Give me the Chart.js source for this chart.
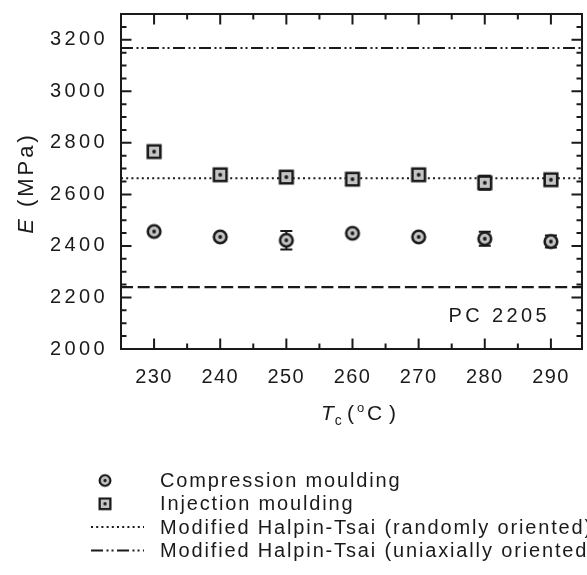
<!DOCTYPE html>
<html>
<head>
<meta charset="utf-8">
<script src="https://cdn.jsdelivr.net/npm/chart.js"></script>
<style>
  html, body { margin: 0; padding: 0; background: #fff; }
  #wrap { width: 587px; height: 575px; }
</style>
</head>
<body>
<div id="wrap"><canvas id="chart" width="587" height="575"></canvas></div>
<script>
// data
const temps = [230, 240, 250, 260, 270, 280, 290];
const compression = [2456, 2435, 2422, 2449, 2435, 2428, 2417];
const compressionErr = [10, 10, 36, 10, 10, 27, 23];
const injection = [2766, 2676, 2667, 2659, 2676, 2645, 2657];
const injectionErr = [8, 8, 8, 8, 8, 27, 8];
const randomHT = 2663;     // Modified Halpin-Tsai (randomly oriented)
const uniaxialHT = 3168;   // Modified Halpin-Tsai (uniaxially oriented)
const pc2205 = 2240;       // neat PC 2205
const xTicks = [230, 240, 250, 260, 270, 280, 290];
const yTicks = [2000, 2200, 2400, 2600, 2800, 3000, 3200];
const xRange = [225, 294.7];
const yRange = [2000, 3300];
const legendLabels = [
    'Compression moulding',
    'Injection moulding',
    'Modified Halpin-Tsai (randomly oriented)',
    'Modified Halpin-Tsai (uniaxially oriented)'
];

const FONT = '"Liberation Sans", Arial, sans-serif';
const INK = '#1a1a1a';

// marker images
function makeMarker(shape) {
    const c = document.createElement('canvas');
    c.width = 18; c.height = 18;
    const g = c.getContext('2d');
    g.fillStyle = '#c4c4c4';
    g.strokeStyle = INK;
    g.lineWidth = 2.6;
    g.beginPath();
    if (shape === 'circle') g.arc(9, 9, 6.3, 0, Math.PI * 2);
    else g.rect(2.7, 2.7, 12.6, 12.6);
    g.fill();
    g.stroke();
    g.fillStyle = INK;
    g.beginPath();
    g.arc(9, 9, 1.9, 0, Math.PI * 2);
    g.fill();
    return c;
}
const circleImg = makeMarker('circle');
const squareImg = makeMarker('square');

const pts = (ys) => temps.map((t, i) => ({ x: t, y: ys[i] }));
const hline = (v) => [{ x: xRange[0], y: v }, { x: xRange[1], y: v }];

// error bars, under the markers
const errorBars = {
    id: 'errorBars',
    beforeDatasetsDraw(chart) {
        const { ctx, scales: { x, y } } = chart;
        ctx.save();
        ctx.strokeStyle = INK;
        ctx.lineWidth = 2;
        [[compression, compressionErr], [injection, injectionErr]].forEach(([vals, errs]) => {
            vals.forEach((v, i) => {
                const px = x.getPixelForValue(temps[i]);
                const y1 = y.getPixelForValue(v - errs[i]);
                const y2 = y.getPixelForValue(v + errs[i]);
                ctx.beginPath();
                ctx.moveTo(px, y1); ctx.lineTo(px, y2);
                ctx.moveTo(px - 6, y1); ctx.lineTo(px + 6, y1);
                ctx.moveTo(px - 6, y2); ctx.lineTo(px + 6, y2);
                ctx.stroke();
            });
        });
        ctx.restore();
    }
};

// wider letter spacing for the tick labels
const spacing = {
    id: 'spacing',
    afterLayout(chart) {
        if (chart._spaced) return;
        chart._spaced = true;
        [['x', '1.4px'], ['y', '3.4px']].forEach(([id, ls]) => {
            const sc = chart.scales[id];
            const orig = sc.drawLabels;
            sc.drawLabels = function (area) {
                this.ctx.save();
                this.ctx.letterSpacing = ls;
                orig.call(this, area);
                this.ctx.restore();
            };
        });
    }
};

function spaced(ctx, text, x, y, ls) {
    ctx.letterSpacing = ls;
    ctx.fillText(text, x, y);
    return ctx.measureText(text).width;
}

// frame, inward ticks, titles, annotation and legend
const decor = {
    id: 'decor',
    afterDraw(chart) {
        const { ctx, chartArea: a, scales: { x, y } } = chart;
        ctx.save();
        ctx.strokeStyle = INK;
        ctx.lineWidth = 2;
        ctx.strokeRect(a.left, a.top, a.right - a.left, a.bottom - a.top);

        ctx.beginPath();
        for (let v = yRange[0] + 50; v < yRange[1]; v += 50) {
            const py = y.getPixelForValue(v);
            const len = v % 200 === 0 ? 10.5 : 5.5;
            ctx.moveTo(a.left, py); ctx.lineTo(a.left + len, py);
            ctx.moveTo(a.right, py); ctx.lineTo(a.right - len, py);
        }
        for (let v = 230; v < xRange[1]; v += 5) {
            const px = x.getPixelForValue(v);
            const len = v % 10 === 0 ? 10.5 : 5.5;
            ctx.moveTo(px, a.bottom); ctx.lineTo(px, a.bottom - len);
            ctx.moveTo(px, a.top); ctx.lineTo(px, a.top + len);
        }
        ctx.stroke();

        ctx.fillStyle = INK;
        ctx.textBaseline = 'alphabetic';
        ctx.textAlign = 'left';

        // PC 2205 note
        ctx.font = '20px ' + FONT;
        spaced(ctx, 'PC 2205', x.getPixelForValue(274.5), y.getPixelForValue(2105), '3.4px');

        // x title: Tc (°C)
        let cx = 321;
        const base = 420;
        ctx.font = 'italic 21px ' + FONT;
        cx += spaced(ctx, 'T', cx, base, '0px');
        ctx.font = '14px ' + FONT;
        spaced(ctx, 'c', cx + 1, base + 5, '0px');
        ctx.font = '21px ' + FONT;
        spaced(ctx, '(', 347, base, '0px');
        ctx.font = '13px ' + FONT;
        spaced(ctx, 'o', 357, base - 8, '0px');
        ctx.font = '21px ' + FONT;
        spaced(ctx, 'C', 367, base, '0px');
        spaced(ctx, ')', 389, base, '0px');

        // y title: E (MPa), rotated
        ctx.save();
        ctx.translate(33, 183);
        ctx.rotate(-Math.PI / 2);
        ctx.font = 'italic 22px ' + FONT;
        ctx.letterSpacing = '3px';
        const wE = ctx.measureText('E').width;
        ctx.font = '22px ' + FONT;
        const wR = ctx.measureText(' (MPa)').width;
        let tx = -(wE + wR) / 2;
        ctx.font = 'italic 22px ' + FONT;
        ctx.fillText('E', tx, 0);
        ctx.font = '22px ' + FONT;
        ctx.fillText(' (MPa)', tx + wE, 0);
        ctx.restore();

        // legend
        const ds = chart.data.datasets;
        const rowY = [480.5, 503.8, 527.1, 550.4];
        ctx.font = '20px ' + FONT;
        ctx.textBaseline = 'middle';
        legendLabels.forEach((label, i) => {
            const d = ds[i];
            const ry = rowY[i];
            if (d.pointStyle instanceof HTMLCanvasElement) {
                ctx.save();
                ctx.translate(105, ry);
                ctx.scale(0.85, 0.85);
                ctx.drawImage(d.pointStyle, -9, -9);
                ctx.restore();
            } else {
                ctx.save();
                ctx.strokeStyle = d.borderColor;
                ctx.lineWidth = d.borderWidth;
                ctx.setLineDash(d.borderDash);
                ctx.beginPath();
                ctx.moveTo(91, ry); ctx.lineTo(144, ry);
                ctx.stroke();
                ctx.restore();
            }
            spaced(ctx, label, 160, ry + 1, '1.85px');
        });
        ctx.restore();
    }
};

new Chart(document.getElementById('chart'), {
    type: 'scatter',
    data: {
        datasets: [
            { label: legendLabels[0], data: pts(compression), pointStyle: circleImg, showLine: false, order: 1 },
            { label: legendLabels[1], data: pts(injection), pointStyle: squareImg, showLine: false, order: 1 },
            { label: legendLabels[2], data: hline(randomHT), showLine: true, pointRadius: 0,
              borderColor: INK, borderWidth: 2, borderDash: [2, 3.2], order: 2 },
            { label: legendLabels[3], data: hline(uniaxialHT), showLine: true, pointRadius: 0,
              borderColor: INK, borderWidth: 2, borderDash: [12, 3.5, 2, 3, 2, 3.5], order: 2 },
            { label: 'PC 2205', data: hline(pc2205), showLine: true, pointRadius: 0,
              borderColor: INK, borderWidth: 2.2, borderDash: [12, 4.7], order: 2 }
        ]
    },
    options: {
        responsive: false,
        animation: false,
        layout: { padding: { left: 0, top: 14, right: 3, bottom: 166 } },
        plugins: { legend: { display: false }, tooltip: { enabled: false } },
        scales: {
            x: {
                type: 'linear', position: 'bottom', min: xRange[0], max: xRange[1],
                grid: { display: false, drawTicks: false }, border: { display: false },
                afterBuildTicks: (s) => { s.ticks = xTicks.map(v => ({ value: v })); },
                afterFit: (s) => { s.height = 60; s.paddingLeft = 0; s.paddingRight = 0; },
                ticks: { font: { family: FONT, size: 20 }, color: INK, padding: 16, maxRotation: 0,
                         autoSkip: false, callback: (v) => String(v) }
            },
            y: {
                type: 'linear', position: 'left', min: yRange[0], max: yRange[1],
                grid: { display: false, drawTicks: false }, border: { display: false },
                afterBuildTicks: (s) => { s.ticks = yTicks.map(v => ({ value: v })); },
                afterFit: (s) => { s.width = 121; s.paddingTop = 0; s.paddingBottom = 0; },
                ticks: { font: { family: FONT, size: 20 }, color: INK, padding: 13,
                         callback: (v) => String(v) }
            }
        }
    },
    plugins: [spacing, errorBars, decor]
});
</script>
</body>
</html>
